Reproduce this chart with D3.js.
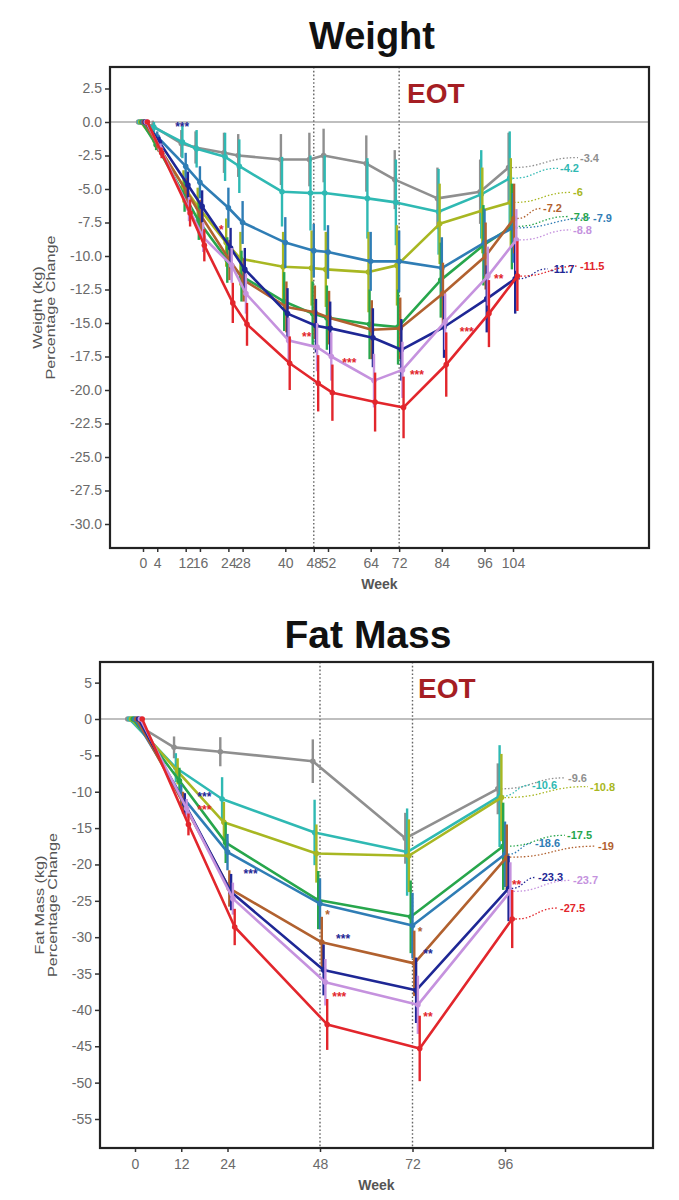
<!DOCTYPE html>
<html>
<head>
<meta charset="utf-8">
<script src="https://cdn.jsdelivr.net/npm/d3@7"></script>
<style>
  body { margin: 0; background: #fff; }
  svg text { font-family: 'Liberation Sans', Arial, sans-serif; }
</style>
</head>
<body>
<svg width="679" height="1200"></svg>
<script>
const svg = d3.select('svg');

// series order: gray, teal, yellow-green, green, steel blue, brown, navy, violet, red
const seriesColors = ['#8f8f8f', '#2fb9b3', '#a8b722', '#27a64c', '#2f7db5',
                      '#b1612f', '#1e2795', '#c592de', '#e2262c'];

const weightWeeks = [0, 4, 12, 16, 24, 28, 40, 48, 52, 64, 72, 84, 96, 104];
const weightMean = [
  [0, -0.3, -1.6, -1.9, -2.3, -2.5, -2.8, -2.8, -2.5, -3.1, -4.3, -5.7, -5.2, -3.4],
  [0, -0.4, -1.5, -2.0, -2.6, -3.3, -5.2, -5.3, -5.3, -5.7, -6.0, -6.7, -5.4, -4.2],
  [0, -1.4, -4.8, -6.3, -9.0, -10.2, -10.8, -10.9, -11.0, -11.2, -10.7, -7.6, -6.6, -6.0],
  [0, -1.7, -5.5, -7.4, -10.3, -11.5, -13.4, -14.3, -14.6, -15.1, -15.3, -11.8, -9.2, -7.8],
  [0, -1.1, -3.3, -4.5, -6.4, -7.5, -9.0, -9.6, -9.7, -10.4, -10.4, -10.9, -9.0, -7.9],
  [0, -1.8, -5.2, -7.0, -10.3, -11.8, -13.8, -14.2, -14.6, -15.5, -15.4, -12.8, -10.0, -7.2],
  [0, -1.5, -4.7, -6.3, -9.4, -11.0, -14.3, -15.2, -15.4, -16.1, -17.0, -15.3, -13.2, -11.7],
  [0, -2.0, -6.5, -8.6, -10.7, -12.8, -16.3, -16.8, -17.5, -19.3, -18.5, -14.9, -11.5, -8.8],
  [0, -2.3, -6.8, -9.2, -13.5, -15.1, -18.0, -19.5, -20.2, -20.9, -21.3, -18.1, -14.3, -11.5]
];
const weightErr = [
  [0, 0.4, 1.0, 1.2, 1.5, 1.6, 1.9, 2.0, 2.0, 2.1, 2.2, 2.3, 2.4, 2.6],
  [0, 0.4, 1.2, 1.4, 1.8, 2.0, 2.6, 2.8, 2.8, 3.0, 3.2, 3.2, 3.3, 3.5],
  [0, 0.4, 1.2, 1.4, 1.8, 2.0, 2.6, 2.8, 2.8, 3.0, 3.0, 3.0, 3.2, 3.3],
  [0, 0.4, 1.2, 1.4, 1.7, 1.9, 2.2, 2.4, 2.4, 2.6, 2.8, 2.8, 3.0, 3.2],
  [0, 0.4, 1.0, 1.2, 1.5, 1.6, 1.9, 2.0, 2.0, 2.2, 2.3, 2.3, 2.5, 2.6],
  [0, 0.4, 1.0, 1.2, 1.5, 1.6, 1.9, 2.0, 2.0, 2.2, 2.3, 2.3, 2.5, 2.6],
  [0, 0.4, 1.0, 1.2, 1.5, 1.6, 1.9, 2.0, 2.0, 2.2, 2.3, 2.3, 2.5, 2.6],
  [0, 0.4, 0.9, 1.1, 1.3, 1.5, 1.7, 1.8, 1.8, 2.0, 2.1, 2.1, 2.2, 2.3],
  [0, 0.4, 1.0, 1.2, 1.5, 1.6, 2.0, 2.1, 2.1, 2.2, 2.3, 2.4, 2.5, 2.6]
];
const weightYTicks = [2.5, 0, -2.5, -5, -7.5, -10, -12.5, -15, -17.5, -20, -22.5, -25, -27.5, -30];
const weightStars = [
  { week: 11, value: -0.2, text: '***', series: 6 },
  { week: 22, value: -7.9, text: '*', series: 8 },
  { week: 46, value: -15.9, text: '**', series: 8 },
  { week: 58, value: -17.8, text: '***', series: 8 },
  { week: 77, value: -18.7, text: '***', series: 8 },
  { week: 91, value: -15.5, text: '***', series: 8 },
  { week: 100, value: -11.6, text: '**', series: 8 }
];

const fatWeeks = [0, 12, 24, 48, 72, 96];
const fatMean = [
  [0, -3.9, -4.5, -5.8, -16.4, -9.6],
  [0, -6.7, -11.0, -15.6, -18.3, -10.6],
  [0, -7.2, -14.2, -18.5, -18.8, -10.8],
  [0, -8.5, -17.0, -24.9, -27.2, -17.5],
  [0, -10.5, -18.3, -25.4, -28.4, -18.6],
  [0, -11.5, -23.3, -30.7, -33.6, -19.0],
  [0, -11.7, -23.8, -34.5, -37.3, -23.3],
  [0, -12.3, -24.7, -36.2, -39.3, -23.7],
  [0, -14.5, -28.6, -42.0, -45.3, -27.5]
];
const fatErr = [
  [0, 1.5, 2.0, 3.0, 3.5, 3.5],
  [0, 2.0, 3.0, 4.5, 6.0, 7.0],
  [0, 1.8, 2.8, 4.0, 5.0, 6.0],
  [0, 1.8, 2.8, 4.0, 5.0, 6.0],
  [0, 1.5, 2.5, 3.5, 4.5, 4.5],
  [0, 1.5, 2.5, 3.5, 4.5, 4.5],
  [0, 1.5, 2.5, 3.5, 4.5, 4.5],
  [0, 1.3, 2.2, 3.2, 4.0, 4.0],
  [0, 1.5, 2.5, 3.5, 4.5, 4.0]
];
const fatYTicks = [5, 0, -5, -10, -15, -20, -25, -30, -35, -40, -45, -50, -55];
const fatStars = [
  { week: 18, value: -10.5, text: '***', series: 6 },
  { week: 18, value: -12.3, text: '***', series: 8 },
  { week: 30, value: -21.1, text: '***', series: 6 },
  { week: 50, value: -26.7, text: '*', series: 5 },
  { week: 54, value: -30.0, text: '***', series: 6 },
  { week: 53, value: -38.0, text: '***', series: 8 },
  { week: 74, value: -29.0, text: '*', series: 5 },
  { week: 76, value: -32.0, text: '**', series: 6 },
  { week: 76, value: -40.7, text: '**', series: 8 },
  { week: 99, value: -22.6, text: '**', series: 8 }
];

const eotWeeks = [48, 72];

// plain hyphen for negative tick labels
const locale = d3.formatLocale({ decimal: '.', thousands: ',', grouping: [3], currency: ['', ''], minus: '-' });

const drawPanel = (props) => {
  const {
    weeks, means, errs, yTicks, yFormat, stars,
    box, xMap, yMap, dodge, labelDx, labelDy,
    title, titleX, titleY, titleSize, yLabel, yLabelX, eotX, eotY,
    xTickPad, weekY
  } = props;

  const xScale = d3.scaleLinear().domain(xMap[0]).range(xMap[1]);
  const yScale = d3.scaleLinear().domain(yMap[0]).range(yMap[1]);
  const g = svg.append('g');

  g.append('text')
    .attr('x', titleX).attr('y', titleY)
    .attr('text-anchor', 'middle')
    .attr('font-size', titleSize).attr('font-weight', 'bold')
    .attr('fill', '#111')
    .text(title);

  // zero line and end-of-treatment markers
  g.append('line')
    .attr('x1', box.left).attr('x2', box.right)
    .attr('y1', yScale(0)).attr('y2', yScale(0))
    .attr('stroke', '#aaa').attr('stroke-width', 1.6);

  g.selectAll('.eot').data(eotWeeks).enter().append('line')
    .attr('x1', d => xScale(d)).attr('x2', d => xScale(d))
    .attr('y1', box.top).attr('y2', box.bottom)
    .attr('stroke', '#666').attr('stroke-width', 1.4)
    .attr('stroke-dasharray', '1.6,2.2');

  g.append('text')
    .attr('x', eotX).attr('y', eotY)
    .attr('font-size', 28).attr('font-weight', 'bold')
    .attr('fill', '#a51e23')
    .text('EOT');

  // axes
  const yAxis = d3.axisLeft(yScale)
    .tickValues(yTicks).tickFormat(yFormat)
    .tickSize(5).tickPadding(3);
  const yAxisG = g.append('g')
    .attr('transform', `translate(${box.left},0)`)
    .call(yAxis);
  yAxisG.select('.domain').remove();

  const xAxis = d3.axisBottom(xScale)
    .tickValues(weeks).tickFormat(locale.format('d'))
    .tickSize(4).tickPadding(xTickPad);
  const xAxisG = g.append('g')
    .attr('transform', `translate(0,${box.bottom})`)
    .call(xAxis);
  xAxisG.select('.domain').remove();

  g.selectAll('.tick line').attr('stroke', '#333').attr('stroke-width', 1.5);
  g.selectAll('.tick text')
    .attr('fill', '#6a6a6a').attr('font-size', 14)
    .style('font-family', "'Liberation Sans', Arial, sans-serif");

  g.append('text')
    .attr('x', (box.left + box.right) / 2).attr('y', weekY)
    .attr('text-anchor', 'middle')
    .attr('font-size', 14).attr('font-weight', 'bold')
    .attr('fill', '#555')
    .text('Week');

  const yMid = (box.top + box.bottom) / 2;
  yLabel.forEach((line, i) => {
    g.append('text')
      .attr('transform', `translate(${yLabelX[i]},${yMid}) rotate(-90) scale(1.35,1)`)
      .attr('text-anchor', 'middle')
      .attr('font-size', 12)
      .attr('fill', '#555')
      .text(line);
  });

  // series
  const line = d3.line()
    .x(d => d.x)
    .y(d => yScale(d.v));

  means.forEach((row, s) => {
    const color = seriesColors[s];
    const off = (s - 4) * dodge;
    const pts = row.map((v, i) => ({ x: xScale(weeks[i]) + off, v: v, e: errs[s][i] }));
    const sg = g.append('g');

    sg.selectAll('.err').data(pts.filter(d => d.e > 0)).enter().append('line')
      .attr('x1', d => d.x).attr('x2', d => d.x)
      .attr('y1', d => yScale(d.v - d.e)).attr('y2', d => yScale(d.v + d.e))
      .attr('stroke', color).attr('stroke-width', 2.4);

    sg.append('path')
      .datum(pts)
      .attr('d', line)
      .attr('fill', 'none')
      .attr('stroke', color)
      .attr('stroke-width', 2.6)
      .attr('stroke-linejoin', 'round');

    sg.selectAll('circle').data(pts).enter().append('circle')
      .attr('cx', d => d.x).attr('cy', d => yScale(d.v))
      .attr('r', 2.8)
      .attr('fill', color);

    // end value label with dotted connector
    const last = pts[pts.length - 1];
    const lx = xScale(weeks[weeks.length - 1]) + labelDx[s];
    const ly = yScale(last.v) + labelDy;
    const link = d3.linkHorizontal();
    sg.append('path')
      .attr('d', link({ source: [last.x + 3, yScale(last.v)], target: [lx - 2, ly] }))
      .attr('fill', 'none')
      .attr('stroke', color)
      .attr('stroke-width', 1.3)
      .attr('stroke-dasharray', '1.5,2');
    sg.append('text')
      .attr('x', lx).attr('y', ly + 4)
      .attr('font-size', 11).attr('font-weight', 'bold')
      .attr('fill', color)
      .text(last.v);
  });

  g.selectAll('.star').data(stars).enter().append('text')
    .attr('x', d => xScale(d.week)).attr('y', d => yScale(d.value) + 6)
    .attr('text-anchor', 'middle')
    .attr('font-size', 12).attr('font-weight', 'bold')
    .attr('fill', d => seriesColors[d.series])
    .text(d => d.text);

  g.append('rect')
    .attr('x', box.left).attr('y', box.top)
    .attr('width', box.right - box.left).attr('height', box.bottom - box.top)
    .attr('fill', 'none')
    .attr('stroke', '#222').attr('stroke-width', 2.2);
};

drawPanel({
  weeks: weightWeeks,
  means: weightMean,
  errs: weightErr,
  yTicks: weightYTicks,
  yFormat: locale.format('.1f'),
  stars: weightStars,
  box: { left: 110, right: 649, top: 67, bottom: 548 },
  xMap: [[0, 104], [143, 513]],
  yMap: [[0, -30], [122, 524]],
  dodge: 1.1,
  labelDx: [67, 47, 60, 57, 80, 30, 37, 60, 67],
  labelDy: -10,
  title: 'Weight', titleX: 372, titleY: 49, titleSize: 38,
  yLabel: ['Weight (kg)', 'Percentage Change'], yLabelX: [42, 55],
  eotX: 407, eotY: 103,
  xTickPad: 6, weekY: 589
});

drawPanel({
  weeks: fatWeeks,
  means: fatMean,
  errs: fatErr,
  yTicks: fatYTicks,
  yFormat: locale.format('d'),
  stars: fatStars,
  box: { left: 100, right: 653, top: 662, bottom: 1148 },
  xMap: [[0, 96], [135, 505]],
  yMap: [[0, -55], [719, 1119]],
  dodge: 1.8,
  labelDx: [63, 27, 85, 62, 30, 93, 33, 68, 55],
  labelDy: -11,
  title: 'Fat Mass', titleX: 368, titleY: 648, titleSize: 39,
  yLabel: ['Fat Mass (kg)', 'Percentage Change'], yLabelX: [44, 57],
  eotX: 418, eotY: 698,
  xTickPad: 7, weekY: 1190
});
</script>
</body>
</html>
